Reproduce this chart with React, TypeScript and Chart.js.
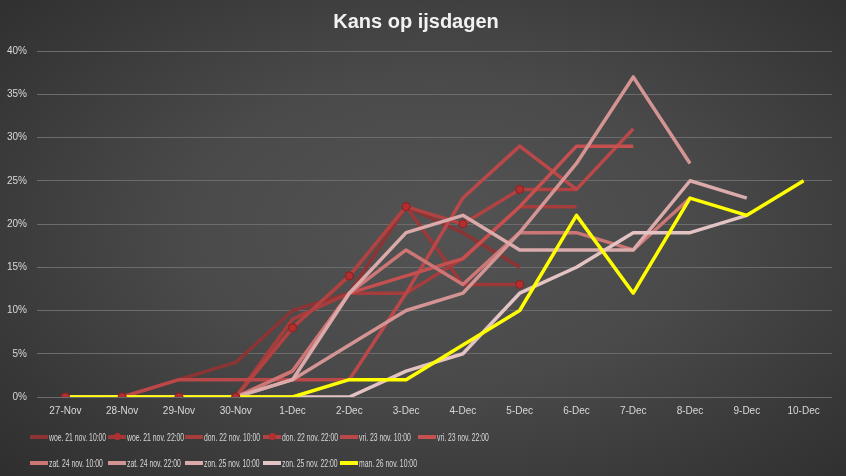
import React, { useEffect, useRef } from "react";
import { Chart, registerables } from "chart.js";

Chart.register(...registerables);

const categories = ["27-Nov", "28-Nov", "29-Nov", "30-Nov", "1-Dec", "2-Dec", "3-Dec", "4-Dec", "5-Dec", "6-Dec", "7-Dec", "8-Dec", "9-Dec", "10-Dec"];

const seriesNames = [
  "woe. 21 nov. 10:00",
  "woe. 21 nov. 22:00",
  "don. 22 nov. 10:00",
  "don. 22 nov. 22:00",
  "vri. 23 nov. 10:00",
  "vri. 23 nov. 22:00",
  "zat. 24 nov. 10:00",
  "zat. 24 nov. 22:00",
  "zon. 25 nov. 10:00",
  "zon. 25 nov. 22:00",
  "man. 26 nov. 10:00",
];

const woe21_1000 = [0, 0, 2, 4, 10, 12, 22, 19, 15];
const woe21_2200 = [0, 0, 0, 0, 8, 14, 22, 13, 13];
const don22_1000 = [0, 0, 0, 0, 9, 12, 12, 16, 22, 22];
const don22_2200 = [0, 0, 0, 0, 8, 14, 22, 20, 24, 24];
const vri23_1000 = [0, 0, 2, 2, 2, 2, 12, 23, 29, 24, 31];
const vri23_2200 = [0, 0, 0, 0, 3, 12, 14, 16, 22, 29, 29];
const zat24_1000 = [0, 0, 0, 0, 3, 12, 17, 13, 19, 19, 17, 23];
const zat24_2200 = [0, 0, 0, 0, 2, 6, 10, 12, 19, 27, 37, 27];
const zon25_1000 = [0, 0, 0, 0, 2, 12, 19, 21, 17, 17, 17, 25, 23];
const zon25_2200 = [0, 0, 0, 0, 0, 0, 3, 5, 12, 15, 19, 19, 21];
const man26_1000 = [0, 0, 0, 0, 0, 2, 2, 6, 10, 21, 12, 23, 21, 25];

const seriesValues = [
  woe21_1000, woe21_2200, don22_1000, don22_2200, vri23_1000, vri23_2200,
  zat24_1000, zat24_2200, zon25_1000, zon25_2200, man26_1000,
];

// which points of the two marker series show a visible marker in the picture
const woe21_2200_marked = [true, true, true, true, true, true, true, false, true];
const don22_2200_marked = [true, true, true, true, true, true, true, true, true, false];

const yTickValues = [0, 5, 10, 15, 20, 25, 30, 35, 40];

const seriesColors = [
  "#8c3434", "#9c3838", "#a63d3d", "#b04242", "#bb4848", "#c65050",
  "#cc7676", "#d49494", "#dbaaaa", "#e3c3c3", "#ffff00",
];
const markerSeries = [false, true, false, true, false, false, false, false, false, false, false];

const FONT = "'Liberation Sans', Arial, sans-serif";
const TEXT = "#d9d9d9";
const MARKER_FILL = "#b32f2f";

export default function App() {
  const ref = useRef<HTMLCanvasElement | null>(null);

  useEffect(() => {
    if (!ref.current) return;
    const n = seriesValues.length;
    const lineSets: any[] = seriesValues.map((vals, i) => ({
      label: seriesNames[i],
      data: vals,
      borderColor: seriesColors[i],
      backgroundColor: seriesColors[i],
      borderWidth: 3.5,
      tension: 0,
      fill: false,
      borderJoinStyle: "round",
      pointRadius: 0,
      pointHoverRadius: 0,
      order: n - i + 1,
    }));
    const markerSets: any[] = [
      { vals: woe21_2200, marked: woe21_2200_marked, i: 1 },
      { vals: don22_2200, marked: don22_2200_marked, i: 3 },
    ].map((m) => ({
      label: seriesNames[m.i] + " markers",
      data: m.vals,
      showLine: false,
      pointRadius: m.marked.map((b) => (b ? 4 : 0)),
      pointHoverRadius: 0,
      pointBackgroundColor: MARKER_FILL,
      pointBorderColor: "#8a2222",
      pointBorderWidth: 1,
      order: 0,
    }));
    const chart = new Chart(ref.current, {
      type: "line",
      data: {
        labels: categories,
        datasets: [...lineSets, ...markerSets],
      },
      options: {
        animation: false,
        responsive: false,
        maintainAspectRatio: false,
        layout: { padding: { left: 0, right: 14, top: 0, bottom: 49 } },
        plugins: {
          legend: { display: false },
          tooltip: { enabled: false },
          title: {
            display: true,
            text: "Kans op ijsdagen",
            color: "#f2f2f2",
            font: { family: FONT, size: 20, weight: "bold" },
            padding: { top: 10, bottom: 17 },
          },
        },
        scales: {
          x: {
            offset: true,
            grid: { display: false, drawTicks: false },
            border: { display: false },
            ticks: {
              color: TEXT,
              font: { family: FONT, size: 10 },
              maxRotation: 0,
              autoSkip: false,
              padding: 8,
            },
            afterFit: (s: any) => {
              s.height = 30;
            },
          },
          y: {
            min: yTickValues[0],
            max: yTickValues[yTickValues.length - 1],
            afterBuildTicks: (s: any) => {
              s.ticks = yTickValues.map((v) => ({ value: v }));
            },
            ticks: {
              color: TEXT,
              font: { family: FONT, size: 10 },
              padding: 10,
              callback: (v: any) => v + "%",
            },
            grid: { color: "#6c6c6c", lineWidth: 1, drawTicks: false },
            border: { display: false },
            afterFit: (s: any) => {
              s.width = 37;
            },
          },
        },
      },
    });
    return () => chart.destroy();
  }, []);

  return (
    <div
      style={{
        position: "fixed",
        left: 0,
        top: 0,
        width: 846,
        height: 476,
        background: "radial-gradient(ellipse 75% 80% at 52% 48%, #535353 0%, #4a4a4a 40%, #383838 75%, #2c2c2c 100%)",
        overflow: "hidden",
      }}
    >
      <canvas ref={ref} width={846} height={476} style={{ position: "absolute", left: 0, top: 0, width: 846, height: 476 }} />
      {seriesNames.map((name, i) => {
        const col = i % 6;
        const row = Math.floor(i / 6);
        const left = 30 + col * 77.6;
        const cy = 437 + row * 26;
        return (
          <div key={name} style={{ position: "absolute", left, top: cy - 7, height: 14, width: 78 }}>
            <div style={{ position: "absolute", left: 0, top: 5, width: 18, height: 4, background: seriesColors[i] }} />
            {markerSeries[i] && (
              <div
                style={{
                  position: "absolute",
                  left: 6,
                  top: 3,
                  width: 7,
                  height: 7,
                  borderRadius: "50%",
                  background: MARKER_FILL,
                }}
              />
            )}
            <span
              style={{
                position: "absolute",
                left: 19,
                top: 0,
                fontFamily: FONT,
                fontSize: 10.5,
                lineHeight: "14px",
                color: TEXT,
                whiteSpace: "nowrap",
                transform: "scaleX(0.65)",
                transformOrigin: "left center",
              }}
            >
              {name}
            </span>
          </div>
        );
      })}
    </div>
  );
}
